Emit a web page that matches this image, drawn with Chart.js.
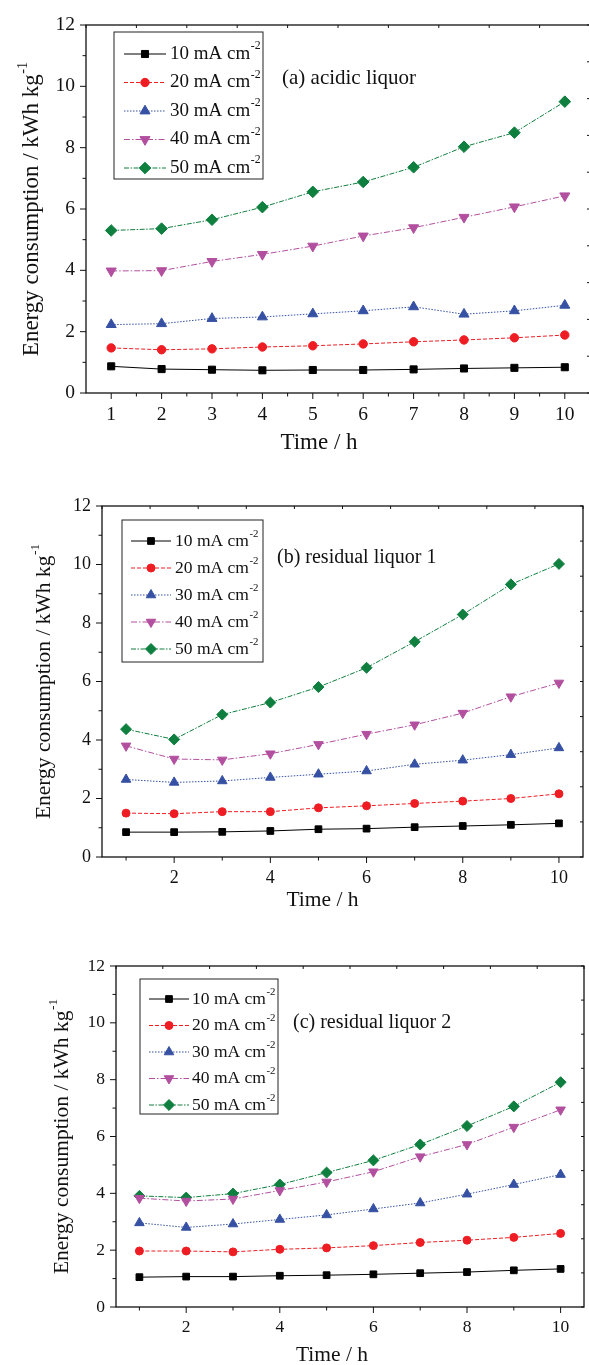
<!DOCTYPE html>
<html>
<head>
<meta charset="utf-8">
<script src="https://cdn.jsdelivr.net/npm/chart.js@4.4.1/dist/chart.umd.min.js"></script>
<style>
  html, body { margin: 0; padding: 0; background: #fff; width: 589px; height: 1365px; overflow: hidden; }
  canvas { position: absolute; left: 0; }
</style>
</head>
<body>
<canvas id="chartA" width="591" height="465" style="top:0px"></canvas>
<canvas id="chartB" width="589" height="445" style="top:470px"></canvas>
<canvas id="chartC" width="589" height="435" style="top:930px"></canvas>
<script>
// x values (time, h) and the tick labels shown
const hours = [1, 2, 3, 4, 5, 6, 7, 8, 9, 10];
const densities = ['10', '20', '30', '40', '50'];
const yTickLabels = [0, 2, 4, 6, 8, 10, 12];
const xTickLabelsA = [1, 2, 3, 4, 5, 6, 7, 8, 9, 10];
const xTickLabelsBC = [2, 4, 6, 8, 10];

// (a) acidic liquor
const acid10 = [0.87, 0.78, 0.76, 0.74, 0.75, 0.75, 0.77, 0.80, 0.82, 0.84];
const acid20 = [1.47, 1.41, 1.44, 1.50, 1.54, 1.60, 1.67, 1.73, 1.80, 1.89];
const acid30 = [2.23, 2.26, 2.43, 2.48, 2.58, 2.68, 2.81, 2.57, 2.68, 2.86];
const acid40 = [3.98, 3.99, 4.29, 4.52, 4.79, 5.12, 5.39, 5.73, 6.07, 6.43];
const acid50 = [5.30, 5.36, 5.65, 6.06, 6.56, 6.88, 7.36, 8.03, 8.49, 9.50];

// (b) residual liquor 1
const res1_10 = [0.85, 0.85, 0.86, 0.89, 0.95, 0.97, 1.02, 1.06, 1.10, 1.15];
const res1_20 = [1.50, 1.48, 1.55, 1.55, 1.68, 1.75, 1.83, 1.91, 2.00, 2.16];
const res1_30 = [2.65, 2.55, 2.60, 2.72, 2.83, 2.94, 3.17, 3.31, 3.50, 3.73];
const res1_40 = [3.80, 3.35, 3.32, 3.53, 3.85, 4.20, 4.52, 4.92, 5.48, 5.95];
const res1_50 = [4.37, 4.02, 4.87, 5.28, 5.81, 6.47, 7.36, 8.29, 9.32, 10.02];

// (c) residual liquor 2
const res2_10 = [1.05, 1.07, 1.07, 1.10, 1.12, 1.15, 1.19, 1.23, 1.29, 1.34];
const res2_20 = [1.97, 1.97, 1.94, 2.03, 2.08, 2.16, 2.27, 2.35, 2.45, 2.59];
const res2_30 = [2.96, 2.80, 2.92, 3.08, 3.24, 3.45, 3.66, 3.97, 4.31, 4.66];
const res2_40 = [3.83, 3.73, 3.80, 4.10, 4.40, 4.76, 5.29, 5.72, 6.33, 6.94];
const res2_50 = [3.91, 3.85, 3.99, 4.31, 4.73, 5.16, 5.72, 6.37, 7.06, 7.91];

const colors = ['#000000', '#ee1d23', '#3651a3', '#b24f9f', '#0e7f3e'];
const dashes = [[], [4, 2], [1.5, 1.5], [6, 2, 1.5, 2], [5, 1.5, 1.5, 1.5]];
const markers = ['rect', 'circle', 'triangle', 'triangle', 'rectRot'];
const rotations = [0, 0, 0, 180, 0];
const radii = [5, 4.2, 5.8, 5.8, 5.8];

const serif = "'Liberation Serif', 'Times New Roman', serif";

// text with a raised exponent, left aligned, middle baseline
const drawSup = (ctx, base, exp, x, y, size) => {
  ctx.font = size + 'px ' + serif;
  ctx.fillText(base, x, y);
  const w = ctx.measureText(base).width;
  ctx.font = (size * 0.62) + 'px ' + serif;
  ctx.fillText(exp, x + w + 0.5, y - size * 0.4);
};

const supWidth = (ctx, base, exp, size) => {
  ctx.font = size + 'px ' + serif;
  const w = ctx.measureText(base).width;
  ctx.font = (size * 0.62) + 'px ' + serif;
  return w + 0.5 + ctx.measureText(exp).width;
};

// frame, Origin-like ticks, legend box, panel label and axis titles
const decor = (p) => ({
  id: 'decor',
  beforeDatasetsDraw(chart) {
    const ctx = chart.ctx, a = chart.chartArea;
    const xs = chart.scales.x, ys = chart.scales.y;
    ctx.save();
    ctx.strokeStyle = '#111';
    ctx.lineWidth = 1.3;
    ctx.strokeRect(a.left, a.top, a.right - a.left, a.bottom - a.top);
    ctx.lineWidth = 1;
    ctx.beginPath();
    xs.ticks.forEach(t => {
      const px = xs.getPixelForValue(t.value);
      ctx.moveTo(px, a.bottom);
      ctx.lineTo(px, a.bottom + (t.label !== '' ? 6 : 3.5));
    });
    ys.ticks.forEach(t => {
      const py = ys.getPixelForValue(t.value);
      ctx.moveTo(a.left, py);
      ctx.lineTo(a.left - (t.label !== '' ? 6 : 3.5), py);
    });
    // opposite axes: ten even divisions, ticks inward
    for (let i = 0; i <= 10; i++) {
      const px = xs.getPixelForValue(xs.min + (xs.max - xs.min) * i / 10);
      ctx.moveTo(px, a.top);
      ctx.lineTo(px, a.top + 3);
      const py = ys.getPixelForValue(ys.min + (ys.max - ys.min) * i / 10);
      ctx.moveTo(a.right, py);
      ctx.lineTo(a.right - 3, py);
    }
    ctx.stroke();
    ctx.restore();
  },
  afterDraw(chart) {
    const ctx = chart.ctx, a = chart.chartArea;
    ctx.save();
    ctx.fillStyle = '#111';
    ctx.textBaseline = 'middle';
    ctx.textAlign = 'left';

    // legend
    const bx = a.left + p.box[0], by = a.top + p.box[1];
    ctx.fillStyle = '#fff';
    ctx.fillRect(bx, by, p.box[2], p.box[3]);
    ctx.strokeStyle = '#222';
    ctx.lineWidth = 1;
    ctx.strokeRect(bx, by, p.box[2], p.box[3]);
    chart.data.datasets.forEach((ds, i) => {
      const y = by + p.rowTop + i * p.rowGap;
      ctx.strokeStyle = ds.borderColor;
      ctx.lineWidth = 1;
      ctx.setLineDash(ds.borderDash);
      ctx.beginPath();
      ctx.moveTo(bx + p.line[0], y);
      ctx.lineTo(bx + p.line[1], y);
      ctx.stroke();
      ctx.setLineDash([]);
      ctx.fillStyle = ds.pointBackgroundColor;
      ctx.strokeStyle = ds.pointBorderColor;
      Chart.helpers.drawPoint(ctx, {
        pointStyle: ds.pointStyle, rotation: ds.pointRotation,
        radius: ds.pointRadius, borderWidth: 1
      }, bx + (p.line[0] + p.line[1]) / 2, y);
      ctx.fillStyle = '#111';
      drawSup(ctx, densities[i] + ' mA cm', '-2', bx + p.textX, y, p.legendSize);
    });

    // panel label
    ctx.font = p.labelSize + 'px ' + serif;
    ctx.fillText(p.label, a.left + p.labelPos[0], a.top + p.labelPos[1]);

    // x title
    ctx.textAlign = 'center';
    ctx.font = p.titleSize + 'px ' + serif;
    ctx.fillText('Time / h', (a.left + a.right) / 2 + p.xTitleDx, p.xTitleY);

    // y title, rotated
    ctx.textAlign = 'left';
    ctx.translate(p.yTitleX, (a.top + a.bottom) / 2);
    ctx.rotate(-Math.PI / 2);
    const base = 'Energy consumption / kWh kg';
    const w = supWidth(ctx, base, '-1', p.titleSize);
    drawSup(ctx, base, '-1', -w / 2, 0, p.titleSize);
    ctx.restore();
  }
});

const makeDatasets = (series, scale) => series.map((vals, i) => ({
  label: densities[i] + ' mA cm-2',
  data: hours.map((h, j) => ({ x: h, y: vals[j] })),
  borderColor: colors[i],
  backgroundColor: colors[i],
  pointBackgroundColor: colors[i],
  pointBorderColor: colors[i],
  borderWidth: 1,
  borderDash: dashes[i],
  pointStyle: markers[i],
  pointRotation: rotations[i],
  pointRadius: radii[i] * scale,
  pointBorderWidth: 1,
  tension: 0
}));

const makeChart = (id, series, p) => new Chart(document.getElementById(id), {
  type: 'line',
  data: { datasets: makeDatasets(series, p.markerScale) },
  options: {
    responsive: false,
    animation: false,
    events: [],
    layout: { autoPadding: false, padding: { left: 0, top: p.top, right: p.right, bottom: 0 } },
    plugins: { legend: { display: false }, tooltip: { enabled: false } },
    scales: {
      x: {
        type: 'linear', min: 0.5, max: 10.5,
        grid: { display: false, drawTicks: false },
        border: { display: false },
        ticks: {
          autoSkip: false, maxRotation: 0, padding: p.xPad,
          color: '#111', font: { family: serif, size: p.tickSize },
          callback: v => p.xLabels.includes(v) ? String(v) : ''
        },
        afterBuildTicks: s => { s.ticks = p.xTicks.map(v => ({ value: v })); },
        afterFit: s => { s.height = p.xHeight; s.paddingLeft = 0; s.paddingRight = 0; }
      },
      y: {
        min: 0, max: 12,
        grid: { display: false, drawTicks: false },
        border: { display: false },
        ticks: {
          stepSize: 1, autoSkip: false, padding: p.yPad,
          color: '#111', font: { family: serif, size: p.tickSize },
          callback: v => yTickLabels.includes(v) ? String(v) : ''
        },
        afterFit: s => { s.width = p.yWidth; s.paddingTop = 0; s.paddingBottom = 0; }
      }
    }
  },
  plugins: [decor(p)]
});

const panelA = {
  top: 25, right: 1, yWidth: 86, xHeight: 72, xLabels: xTickLabelsA,
  xTicks: hours.flatMap(h => [h - 0.5, h]).slice(1),
  xPad: 10, yPad: 11, tickSize: 19.5, markerScale: 1,
  box: [28, 7, 149, 147], rowTop: 22, rowGap: 28.5, line: [10, 52], textX: 56, legendSize: 19,
  label: '(a) acidic liquor', labelPos: [196, 53], labelSize: 21,
  titleSize: 23, xTitleDx: -19, xTitleY: 443, yTitleX: 32
};
const panelB = {
  top: 36, right: 6, yWidth: 102, xHeight: 58, xLabels: xTickLabelsBC,
  xTicks: hours,
  xPad: 10, yPad: 11, tickSize: 18, markerScale: 0.95,
  box: [20, 14, 141, 142], rowTop: 21, rowGap: 27, line: [9, 49], textX: 53, legendSize: 17.5,
  label: '(b) residual liquor 1', labelPos: [175, 52], labelSize: 20,
  titleSize: 21.5, xTitleDx: -20, xTitleY: 430, yTitleX: 44
};
const panelC = {
  top: 36, right: 5, yWidth: 116, xHeight: 58, xLabels: xTickLabelsBC,
  xTicks: hours,
  xPad: 10, yPad: 11, tickSize: 17.5, markerScale: 0.95,
  box: [24, 13, 138, 135], rowTop: 20, rowGap: 26.5, line: [9, 49], textX: 52, legendSize: 17.5,
  label: '(c) residual liquor 2', labelPos: [177, 57], labelSize: 20,
  titleSize: 21.5, xTitleDx: -18, xTitleY: 425, yTitleX: 62
};

makeChart('chartA', [acid10, acid20, acid30, acid40, acid50], panelA);
makeChart('chartB', [res1_10, res1_20, res1_30, res1_40, res1_50], panelB);
makeChart('chartC', [res2_10, res2_20, res2_30, res2_40, res2_50], panelC);
</script>
</body>
</html>
